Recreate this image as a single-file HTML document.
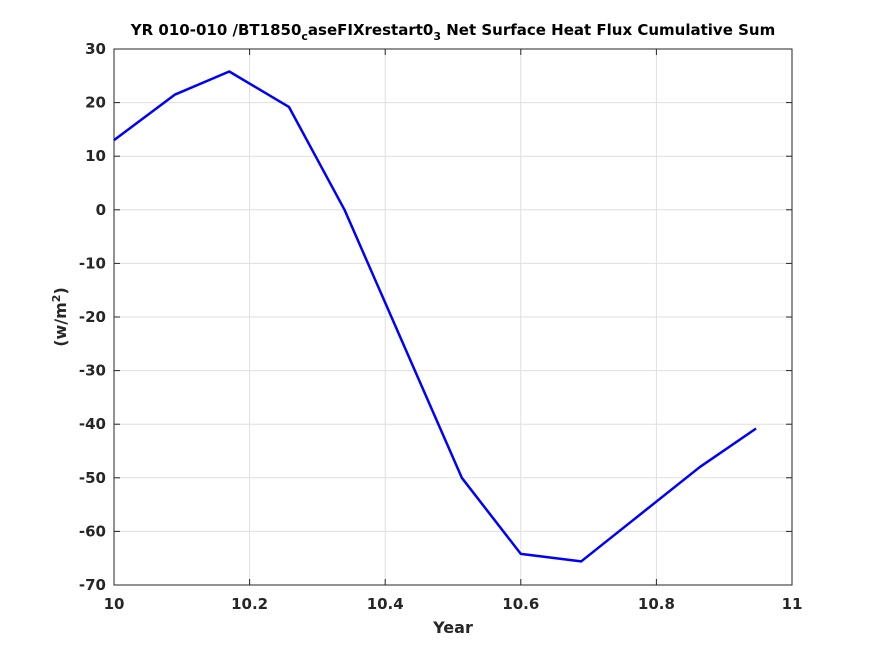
<!DOCTYPE html>
<html><head><meta charset="utf-8"><style>
body{margin:0;background:#fff;}
svg{display:block;font-family:"DejaVu Sans","Liberation Sans",sans-serif;}
</style></head><body>
<svg id="chart" width="875" height="656">
<rect width="875" height="656" fill="#fff"/>
<g id="grid"></g>
<rect x="114" y="49" width="678" height="536" fill="none" stroke="#262626" stroke-width="1"/>
<g id="ticks"></g>
<polyline id="line" fill="none" stroke="#0000ff" stroke-width="2.5" stroke-linejoin="round"/>
<text x="453" y="35" text-anchor="middle" font-size="15" font-weight="bold" fill="#000">YR 010-010 /BT1850<tspan font-size="11" dy="5">c</tspan><tspan dy="-5">aseFIXrestart0</tspan><tspan font-size="11" dy="5">3</tspan><tspan dy="-5"> Net Surface Heat Flux  Cumulative Sum</tspan></text>
<text x="453" y="633" text-anchor="middle" font-size="16" font-weight="bold" fill="#262626">Year</text>
<text transform="translate(66,317) rotate(-90)" text-anchor="middle" font-size="16" font-weight="bold" fill="#262626">(w/m<tspan font-size="11" dy="-6">2</tspan><tspan dy="6">)</tspan></text>
</svg>
<script>
const xs=[10,10.09,10.17,10.258,10.34,10.513,10.60,10.689,10.864,10.947];
const ys=[13,21.5,25.8,19.2,0,-50,-64.2,-65.6,-48,-40.8];
const xTicks=[10,10.2,10.4,10.6,10.8,11];
const xTickLabels=["10","10.2","10.4","10.6","10.8","11"];
const yTicks=[30,20,10,0,-10,-20,-30,-40,-50,-60,-70];
const yTickLabels=["30","20","10","0","-10","-20","-30","-40","-50","-60","-70"];
const L=114,R=792,T=49,B=585;
const sx=v=>L+(v-10)/(11-10)*(R-L);
const sy=v=>T+(30-v)/(100)*(B-T);
const NS="http://www.w3.org/2000/svg";
const grid=document.getElementById('grid'),ticks=document.getElementById('ticks');
function mk(tag,attrs,parent){const e=document.createElementNS(NS,tag);for(const k in attrs)e.setAttribute(k,attrs[k]);parent.appendChild(e);return e;}
xTicks.forEach((v,i)=>{const x=sx(v);
 const g=mk('line',{x1:x,x2:x,y1:T,y2:B,stroke:'#dfdfdf','stroke-width':1},grid);
 
 
 mk('line',{x1:x,x2:x,y1:B,y2:B-6,stroke:'#262626'},ticks);
 mk('line',{x1:x,x2:x,y1:T,y2:T+6,stroke:'#262626'},ticks);
 const t=mk('text',{x:x,y:B+24,'text-anchor':'middle','font-size':15,'font-weight':'bold',fill:'#262626'},ticks);
 t.textContent=xTickLabels[i];
 
 
});
yTicks.forEach((v,i)=>{const y=sy(v);
 const g=mk('line',{x1:L,x2:R,y1:y,y2:y,stroke:'#dfdfdf','stroke-width':1},grid);
 
 
 mk('line',{x1:L,x2:L+6,y1:y,y2:y,stroke:'#262626'},ticks);
 mk('line',{x1:R,x2:R-6,y1:y,y2:y,stroke:'#262626'},ticks);
 const t=mk('text',{x:L-8,y:y+5,'text-anchor':'end','font-size':15,'font-weight':'bold',fill:'#262626'},ticks);
 t.textContent=yTickLabels[i];
 
 
});
document.getElementById('line').setAttribute('points',xs.map((x,i)=>sx(x)+','+sy(ys[i])).join(' '));
</script>
</body></html>
